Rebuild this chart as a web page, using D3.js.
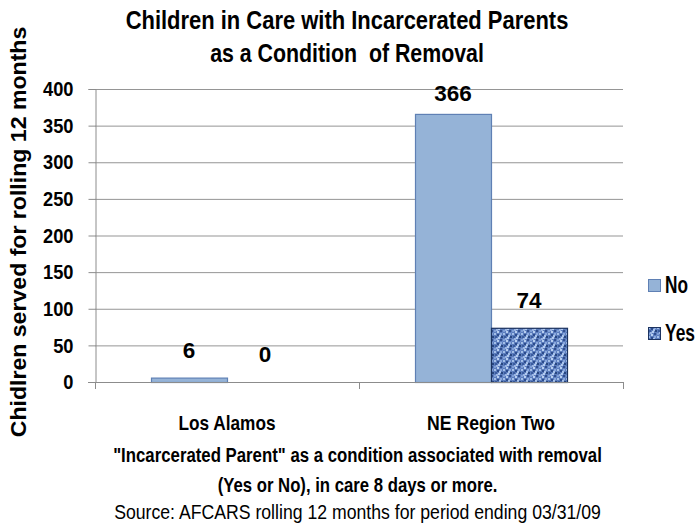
<!DOCTYPE html>
<html><head><meta charset="utf-8">
<script src="https://cdn.jsdelivr.net/npm/d3@7/dist/d3.min.js"></script>
<style>
html,body{margin:0;padding:0;background:#fff;}
text{font-family:"Liberation Sans",Arial,sans-serif;fill:#000;}
</style></head>
<body>
<svg id="chart" width="696" height="527"></svg>
<script>
// ---- data ----
const categories = ["Los Alamos", "NE Region Two"];
const seriesNames = ["No", "Yes"];
const noValues = [6, 366];
const yesValues = [0, 74];
const yTicks = [0, 50, 100, 150, 200, 250, 300, 350, 400];
const titleLines = ["Children in Care with Incarcerated Parents", "as a Condition  of Removal"];
const yAxisTitle = "Chidlren served for rolling 12 months";
const footLines = ["\"Incarcerated Parent\" as a condition associated with removal",
                   "(Yes or No), in care 8 days or more.",
                   "Source: AFCARS rolling 12 months for period ending 03/31/09"];

const svg = d3.select("#chart");
const plot = {left: 95, right: 623, top: 89, bottom: 382};

// place a text at (x,y) and compress it horizontally to a target width
function place(sel, x, y, target, rotate) {
  sel.attr("x", 0).attr("y", 0);
  const w = sel.node().getComputedTextLength();
  const sx = Math.min(1.05, target / w);
  sel.attr("transform", `translate(${x},${y})${rotate ? " rotate(" + rotate + ")" : ""} scale(${sx},1)`);
}

// pattern for "Yes"
const defs = svg.append("defs");
const pat = defs.append("pattern").attr("id", "weave").attr("patternUnits", "userSpaceOnUse")
  .attr("width", 9).attr("height", 9);
pat.append("rect").attr("width", 9).attr("height", 9).attr("fill", "#5c7dbd");
const cells = [[0,0,"#a3bfe8"],[3,1,"#2c4c8c"],[6,0,"#8aa8dc"],[1,3,"#3a5c9e"],[4,4,"#b3cbef"],
               [7,3,"#284780"],[0,6,"#7f9fd6"],[3,7,"#b8cff0"],[6,6,"#314f8f"],[2,5,"#9ab4e2"],[8,8,"#6a8ccc"],[5,2,"#a9c3ea"]];
cells.forEach(c => pat.append("rect").attr("x", c[0]).attr("y", c[1]).attr("width", 2).attr("height", 2).attr("fill", c[2]));

const fills = {No: "#95b3d7", Yes: "url(#weave)"};
const strokes = {No: "#5f80b4", Yes: "#1c3360"};

const x0 = d3.scaleBand().domain(categories).range([plot.left, plot.right]).paddingInner(0).paddingOuter(0);
const x1 = d3.scaleBand().domain(seriesNames).range([0, x0.bandwidth()]).paddingInner(0).paddingOuter(0.7368);
const y = d3.scaleLinear().domain([0, 400]).range([plot.bottom, plot.top]);

// gridlines
svg.append("g").selectAll("line").data(yTicks.filter(t => t > 0)).join("line")
  .attr("x1", plot.left).attr("x2", plot.right)
  .attr("y1", d => y(d) + 0.5).attr("y2", d => y(d) + 0.5)
  .attr("stroke", "#959595").attr("stroke-width", 1);

// y axis
const yAxis = svg.append("g").attr("transform", `translate(${plot.left + 0.5},0)`)
  .call(d3.axisLeft(y).tickValues(yTicks).tickSize(7).tickPadding(8).tickFormat(d3.format("d")));
yAxis.select(".domain").attr("stroke", "#8c8c8c");
yAxis.selectAll(".tick line").attr("stroke", "#8c8c8c");
const tickSx = 0.87;
yAxis.selectAll(".tick text").attr("font-size", 21).attr("font-weight", "bold")
  .style("font-family", "'Liberation Sans',Arial,sans-serif").attr("fill", "#000")
  .attr("x", -22 / tickSx).attr("transform", `scale(${tickSx},1)`);

// data
const rows = categories.map((c, i) => ({cat: c, vals: [{s: "No", v: noValues[i]}, {s: "Yes", v: yesValues[i]}]}));
const groups = svg.append("g").selectAll("g").data(rows).join("g")
  .attr("transform", d => `translate(${x0(d.cat)},0)`);
groups.selectAll("rect").data(d => d.vals).join("rect")
  .attr("x", d => x1(d.s) + 0.5).attr("y", d => y(d.v) + 0.5)
  .attr("width", x1.bandwidth()).attr("height", d => Math.max(0, y(0) - y(d.v)))
  .attr("fill", d => fills[d.s]).attr("stroke", d => strokes[d.s]).attr("stroke-width", 1.2)
  .attr("display", d => d.v > 0 ? null : "none");
groups.selectAll("text").data(d => d.vals).join("text")
  .attr("x", d => x1(d.s) + x1.bandwidth() / 2)
  .attr("y", d => Math.max(y(d.v) - 20, plot.top + 12))
  .attr("text-anchor", "middle").attr("font-size", 22.5).attr("font-weight", "bold")
  .text(d => d.v);

// x axis
svg.append("line").attr("x1", plot.left - 7).attr("x2", plot.right).attr("y1", plot.bottom + 0.5).attr("y2", plot.bottom + 0.5)
  .attr("stroke", "#8c8c8c");
const bounds = categories.map(c => x0(c)).concat([x0.range()[1]]);
svg.append("g").selectAll("line").data(bounds).join("line")
  .attr("x1", d => d + 0.5).attr("x2", d => d + 0.5).attr("y1", plot.bottom).attr("y2", plot.bottom + 7)
  .attr("stroke", "#8c8c8c");
const catWidths = [97, 128];
svg.append("g").selectAll("text").data(categories).join("text")
  .attr("text-anchor", "middle").attr("font-size", 20.5).attr("font-weight", "bold").text(d => d)
  .each(function(d, i) { place(d3.select(this), x0(d) + x0.bandwidth() / 2, 430, catWidths[i]); });

// title
const titleWidths = [443, 274];
svg.append("g").selectAll("text").data(titleLines).join("text")
  .attr("text-anchor", "middle").attr("font-size", 26).attr("font-weight", "bold")
  .attr("xml:space", "preserve").style("white-space", "pre").text(d => d)
  .each(function(d, i) { place(d3.select(this), 347, [29, 62][i], titleWidths[i]); });

// y axis title
const yt = svg.append("text").attr("text-anchor", "middle").attr("font-size", 22).attr("font-weight", "bold").text(yAxisTitle);
place(yt, 26, 232, 413, -90);

// footnote
const footWidths = [489, 280, 487];
svg.append("g").selectAll("text").data(footLines).join("text")
  .attr("text-anchor", "middle").attr("font-size", 21).attr("font-weight", (d, i) => i < 2 ? "bold" : "normal").text(d => d)
  .each(function(d, i) { place(d3.select(this), 357.5, [462, 492, 519][i], footWidths[i]); });

// legend
const legWidths = [23, 30];
const leg = svg.append("g").selectAll("g").data(seriesNames).join("g")
  .attr("transform", (d, i) => `translate(648,${279 + i * 48})`);
leg.append("rect").attr("x", 0.5).attr("y", 0.5).attr("width", 12).attr("height", 12)
  .attr("fill", d => fills[d]).attr("stroke", d => strokes[d]);
leg.append("text").attr("font-size", 23).attr("font-weight", "bold").text(d => d)
  .each(function(d, i) { place(d3.select(this), 17, 13.5, legWidths[i]); });
</script>
</body></html>
